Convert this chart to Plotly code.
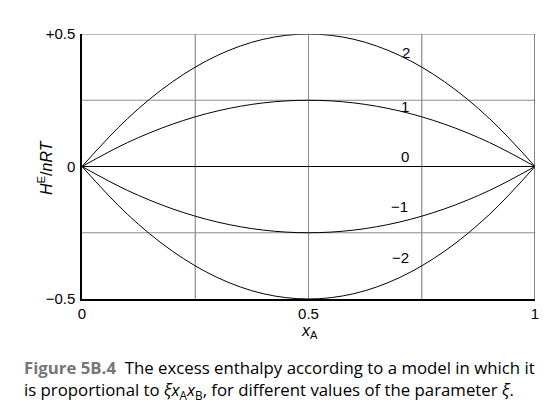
import plotly.graph_objects as go

# Data
x_vals = [0, 0.1, 0.2, 0.3, 0.4, 0.5, 0.6, 0.7, 0.8, 0.9, 1.0]
xi_labels = ["2", "1", "0", "\u22121", "\u22122"]
y_xi2 = [0, 0.18, 0.32, 0.42, 0.48, 0.50, 0.48, 0.42, 0.32, 0.18, 0]
y_xi1 = [0, 0.09, 0.16, 0.21, 0.24, 0.25, 0.24, 0.21, 0.16, 0.09, 0]
y_xi0 = [0, 0, 0, 0, 0, 0, 0, 0, 0, 0, 0]
y_xim1 = [0, -0.09, -0.16, -0.21, -0.24, -0.25, -0.24, -0.21, -0.16, -0.09, 0]
y_xim2 = [0, -0.18, -0.32, -0.42, -0.48, -0.50, -0.48, -0.42, -0.32, -0.18, 0]
series = [y_xi2, y_xi1, y_xi0, y_xim1, y_xim2]
label_x = [0.715, 0.712, 0.712, 0.700, 0.703]
label_y = [0.43, 0.226, 0.038, -0.151, -0.343]

x_ticks = [0, 0.5, 1]
x_ticktext = ["0", "0.5", "1"]
y_ticks = [-0.5, 0, 0.5]
y_ticktext = ["\u22120.5", "0", "+0.5"]

chart_font = "Liberation Sans, Arial, sans-serif"
cap_font = "Open Sans, Noto Sans, sans-serif"
GRID = "#8c8c8c"

fig = go.Figure()
for ys in series:
    fig.add_trace(go.Scatter(x=x_vals, y=ys, mode="lines",
                             line=dict(color="black", width=1, shape="spline", smoothing=1.0),
                             showlegend=False, hoverinfo="skip"))

for lx, ly, txt in zip(label_x, label_y, xi_labels):
    fig.add_annotation(x=lx, y=ly, xref="x", yref="y", text=txt, showarrow=False,
                       xanchor="center", yanchor="middle",
                       font=dict(family=chart_font, size=15, color="black"))

fig.update_xaxes(range=[0, 1], tickvals=x_ticks, ticktext=x_ticktext,
                 showgrid=True, gridcolor=GRID, gridwidth=1.2,
                 zeroline=False, showline=True, linecolor="black", linewidth=1.5,
                 mirror=False, ticks="",
                 tickfont=dict(family=chart_font, size=15, color="black"))
fig.update_yaxes(range=[-0.5, 0.5], tickvals=y_ticks, ticktext=y_ticktext,
                 showgrid=True, gridcolor=GRID, gridwidth=1.2,
                 zeroline=False, showline=True, linecolor="black", linewidth=1.5,
                 mirror=False, ticks="outside", ticklen=2, tickcolor="rgba(0,0,0,0)",
                 tickfont=dict(family=chart_font, size=15, color="black"))

# extra grid lines at quarter positions
for gx in [0.25, 0.75]:
    fig.add_shape(type="line", x0=gx, x1=gx, y0=-0.5, y1=0.5, xref="x", yref="y",
                  line=dict(color=GRID, width=1.2), layer="below")
for gy in [-0.25, 0.25]:
    fig.add_shape(type="line", x0=0, x1=1, y0=gy, y1=gy, xref="x", yref="y",
                  line=dict(color=GRID, width=1.2), layer="below")
# frame: top gray, right dark
fig.add_shape(type="line", x0=0, x1=1, y0=0.5, y1=0.5, xref="x", yref="y",
              line=dict(color="#777777", width=1.2))
fig.add_shape(type="line", x0=1, x1=1, y0=-0.5, y1=0.5, xref="x", yref="y",
              line=dict(color="#333333", width=1.2))

W, H = 553, 419
L, R, T, B = 82, 18, 34, 120
pw, ph = W - L - R, H - T - B

def px(xp):
    return (xp - L) / pw

def py(yp):
    return (H - B - yp) / ph

fig.add_annotation(x=px(45), y=py(168), xref="paper", yref="paper",
                   xanchor="center", yanchor="middle",
                   text="<i>H</i><sup>E</sup>/<i>nRT</i>", textangle=-90, showarrow=False,
                   font=dict(family=chart_font, size=16, color="black"))
fig.add_annotation(x=px(309), y=py(331), xref="paper", yref="paper",
                   xanchor="center", yanchor="middle",
                   text="<i>x</i><sub>A</sub>", showarrow=False,
                   font=dict(family=chart_font, size=16, color="black"))

# caption
fig.add_annotation(x=px(22), y=py(367), xref="paper", yref="paper",
                   xanchor="left", yanchor="middle",
                   text="<b><span style='color:#767676'>Figure 5B.4</span></b>  The excess enthalpy according to a model in which it",
                   showarrow=False, font=dict(family=cap_font, size=16.8, color="black"))
fig.add_annotation(x=px(22), y=py(390), xref="paper", yref="paper",
                   xanchor="left", yanchor="middle",
                   text="is proportional to <i>\u03bex</i><sub>A</sub><i>x</i><sub>B</sub>, for different values of the parameter <i>\u03be</i>.",
                   showarrow=False, font=dict(family=cap_font, size=16.8, color="black"))

fig.update_layout(width=W, height=H, margin=dict(l=L, r=R, t=T, b=B),
                  plot_bgcolor="white", paper_bgcolor="white")

fig.write_html("out.html", config={"displayModeBar": False},
               post_script="document.body.style.margin='0';document.body.style.overflow='hidden';")
